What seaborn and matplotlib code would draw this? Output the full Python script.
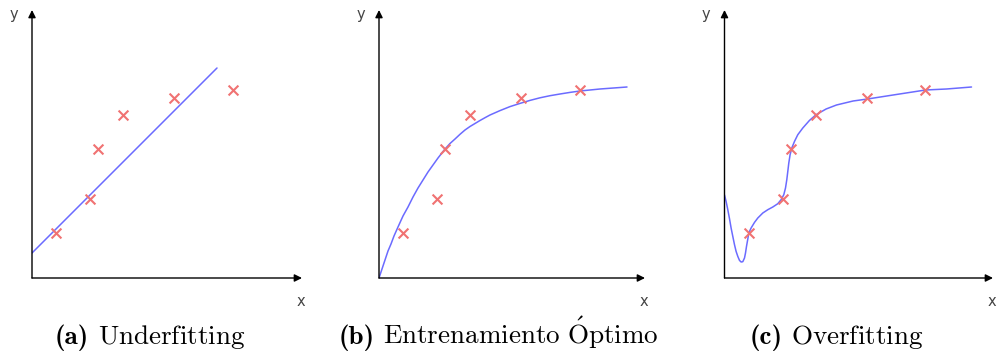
import matplotlib
matplotlib.use("Agg")
import matplotlib.pyplot as plt
import pandas as pd
import seaborn as sns

sns.set_theme(style="white")
plt.rcParams["font.family"] = ["DejaVu Sans"]
plt.rcParams["mathtext.fontset"] = "cm"

# Training samples (same six points in every panel)
sample_x = [24, 58, 66, 91, 142, 201]
sample_y = [45, 79, 129, 163, 180, 188]

# (a) straight-line model
under_x = [0, 185]
under_y = [25, 210]

# (b) well-fitted saturating curve
optimal_x = [0, 3, 6, 9, 12, 15, 19, 24, 29, 34, 39, 44, 49, 54, 59, 66, 71, 76, 81, 86, 91,
             96, 101, 106, 111, 121, 131, 141, 151, 161, 171, 181, 191, 201, 221, 248]
optimal_y = [0, 9, 18, 27, 34, 42, 51, 62, 71, 81, 90, 98, 106, 113, 120, 129, 134.5, 139,
             143.7, 148, 151.5, 154.5, 157.5, 160.3, 163, 167.4, 171.4, 174.6, 177.6, 180.2,
             182.3, 184, 185.6, 187, 189, 191]

# (c) over-fitted wiggly curve
over_x = [0, 1.6, 3.3, 5, 6.6, 8.3, 10, 11.6, 13.3, 15, 16.6, 18.3, 20, 21, 22, 23.3, 24.3,
          26.6, 30, 33.3, 38.3, 43.3, 48.3, 53.3, 56.6, 59.3, 61, 62.3, 63.3, 64.3, 65.6,
          67.3, 70, 73.3, 78.3, 85, 91.6, 101.6, 112, 128.6, 143, 168.6, 201, 222, 247]
over_y = [83, 76.6, 68.3, 59.3, 50, 41.6, 33.3, 26.6, 21.6, 17.6, 16, 16.3, 20, 25, 31.6,
          39, 45, 50, 55.6, 60, 65, 68.3, 71, 74.3, 78.3, 83.3, 90, 98.3, 106.6, 115, 123.3,
          130, 136.6, 143.3, 150, 157.6, 163.3, 169, 173, 177, 179, 183, 188, 189, 191]

labels = ["(a)", "(b)", "(c)"]
titles = [
    r"$\mathrm{Underfitting}$",
    r"$\mathrm{Entrenamiento}\ \acute{\mathrm{O}}\mathrm{ptimo}$",
    r"$\mathrm{Overfitting}$",
]
model_curves = [(under_x, under_y), (optimal_x, optimal_y), (over_x, over_y)]

W, H = 998, 354
POINT_COLOR = "#f07272"
LINE_COLOR = "#6b6bff"
LABEL_COLOR = "#444444"
CAPTION_SIZE = 19.5

fig = plt.figure(figsize=(W / 100, H / 100), dpi=100)
fig.patch.set_facecolor("white")

# pixel layout of each panel: origin x, x-axis length, caption centre
layout = [(32, 270, 150), (379, 266, 498.5), (724.5, 268.5, 836.5)]
origin_y = 278
axis_h = 268
caption_baseline = 344

caption_pairs = []
for (ox, length, cap_x), (cx, cy), lab, title in zip(layout, model_curves, labels, titles):
    ax = fig.add_axes([ox / W, (H - origin_y) / H, length / W, axis_h / H])
    ax.set_xlim(0, length)
    ax.set_ylim(0, axis_h)
    ax.axis("off")

    arrow = dict(arrowstyle="-|>", color="black", lw=1.0, mutation_scale=11,
                 shrinkA=0, shrinkB=0)
    ax.annotate("", xy=(length, 0), xytext=(0, 0), arrowprops=arrow,
                annotation_clip=False)
    ax.annotate("", xy=(0, axis_h), xytext=(0, 0), arrowprops=arrow,
                annotation_clip=False)

    curve = pd.DataFrame({"x": cx, "y": cy})
    sns.lineplot(data=curve, x="x", y="y", ax=ax, sort=False, estimator=None,
                 color=LINE_COLOR, linewidth=1.1)

    pts = pd.DataFrame({"x": sample_x, "y": sample_y})
    sns.scatterplot(data=pts, x="x", y="y", ax=ax, marker="x", s=50,
                    color=POINT_COLOR, linewidth=1.5, zorder=3)
    ax.set_xlim(0, length)
    ax.set_ylim(0, axis_h)

    ax.text(length - 1, -23, "x", ha="center", va="center", fontsize=10.5,
            color=LABEL_COLOR, clip_on=False)
    ax.text(-18.5, axis_h - 5, "y", ha="center", va="center", fontsize=10.5,
            color=LABEL_COLOR, clip_on=False)

    ybase = 1 - caption_baseline / H
    t_lab = fig.text(0, ybase, lab, family="cmb10", fontsize=CAPTION_SIZE,
                     va="baseline", ha="left", color="black")
    t_body = fig.text(0, ybase, title, fontsize=CAPTION_SIZE, va="baseline",
                      ha="left", color="black")
    caption_pairs.append((cap_x, t_lab, t_body))

# centre each "(x) Title" caption under its panel
renderer = fig.canvas.get_renderer()
gap = CAPTION_SIZE * 0.33 * 100 / 72
for cap_x, t_lab, t_body in caption_pairs:
    w1 = t_lab.get_window_extent(renderer).width
    w2 = t_body.get_window_extent(renderer).width
    start = cap_x - (w1 + gap + w2) / 2
    t_lab.set_x(start / W)
    t_body.set_x((start + w1 + gap) / W)

fig.savefig("out.png", dpi=100, facecolor="white")
